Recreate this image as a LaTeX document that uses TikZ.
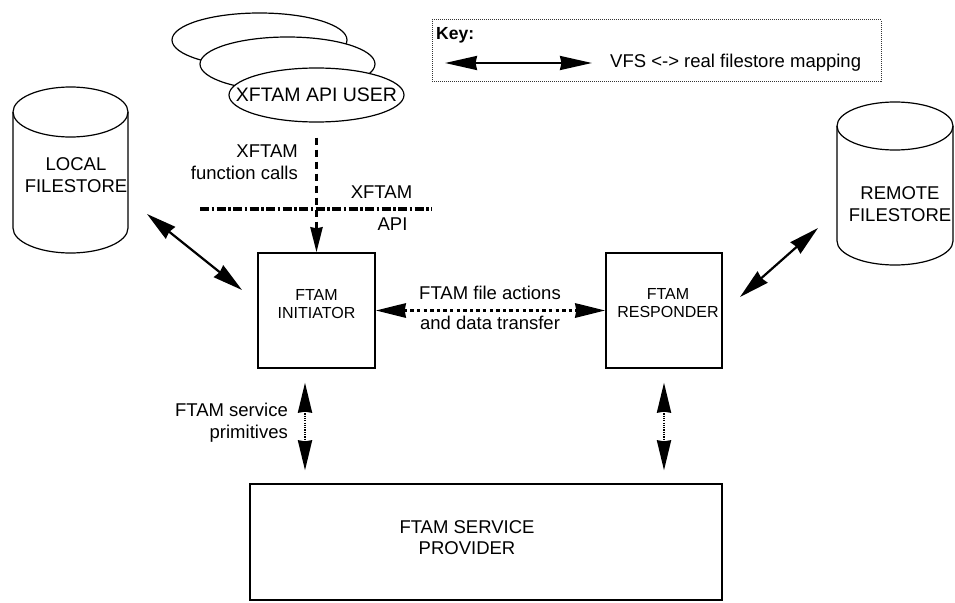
\documentclass[tikz,border=0pt]{standalone}
\usepackage{fontspec}
\setmainfont{Liberation Sans}
\usetikzlibrary{arrows.meta,shapes.geometric,calc}
\begin{document}
\begin{tikzpicture}[x=1pt,y=-1pt,
  box/.style={draw, line width=1.3pt, rectangle, inner sep=0pt},
  txt/.style={font=\fontsize{18.5}{21.5}\selectfont, align=center, inner sep=0pt},
  smalltxt/.style={font=\fontsize{16}{18.5}\selectfont, align=center, inner sep=0pt},
  user/.style={draw, ellipse, line width=1.2pt, fill=white, minimum width=175pt, minimum height=54pt, inner sep=0pt},
  cyl/.style={draw, line width=1.2pt},
  bigtip/.tip={Stealth[length=30pt,width=15pt,inset=1.5pt]},
  keytip/.tip={Stealth[length=32pt,width=14pt,inset=1.5pt]},
  vtip/.tip={Stealth[length=30pt,width=14pt,inset=1pt]},
  ftip/.tip={Stealth[length=25pt,width=12pt,inset=1pt]},
  maparrow/.style={line width=2.2pt, {bigtip}-{bigtip}},
  keyarrow/.style={line width=2.2pt, {keytip}-{keytip}},
  actarrow/.style={line width=3.5pt, dash pattern=on 3.4pt off 3.2pt, {vtip}-{vtip}},
  primarrow/.style={line width=2.4pt, dash pattern=on 1.2pt off 1.1pt, {vtip}-{vtip}, shorten <=14pt, shorten >=13pt},
  callline/.style={line width=3pt, dash pattern=on 7pt off 5pt, -{ftip}, shorten <=15pt},
  apiline/.style={line width=3.5pt, dash pattern=on 9pt off 2.5pt on 2.5pt off 2.5pt},
  keybox/.style={draw=black!80, line width=1pt, densely dotted, rectangle, minimum width=449pt, minimum height=61pt, inner sep=0pt}
]
\useasboundingbox (0,0) rectangle (955,602);

% key
\node[keybox] (key) at (656.5,50.5) {};
\node[font=\fontsize{17.5}{20}\selectfont\bfseries, anchor=west, inner sep=0pt] (keylbl) at (436,35) {Key:};
\coordinate (ka) at (445,63);
\coordinate (kb) at (592,63);
\draw[keyarrow] (ka) -- (kb);
\node[txt, anchor=west] (keytxt) at (610,63) {VFS <-> real filestore mapping};

% API users
\node[user] (e1) at (259.5,40) {};
\node[user] (e2) at (287.5,64) {};
\node[user] (e3) at (316.5,95) {};
\node[font=\fontsize{19.5}{22}\selectfont, inner sep=0pt] (e3txt) at (316.5,95) {XFTAM API USER};

% local filestore
\draw[cyl] (13,112) -- (13,228) arc[start angle=180,end angle=360,x radius=57.5pt,y radius=25pt] -- (128,112);
\draw[cyl] (70.5,112) ellipse[x radius=57.5pt, y radius=25pt];
\node[txt] (lfs) at (76,175) {LOCAL\\FILESTORE};

% remote filestore
\draw[cyl] (837,126) -- (837,241) arc[start angle=180,end angle=360,x radius=58pt,y radius=24pt] -- (953,126);
\draw[cyl] (895,126) ellipse[x radius=58pt, y radius=24pt];
\node[txt] (rfs) at (900,204) {REMOTE\\FILESTORE};

% boxes
\node[box, minimum width=117pt, minimum height=115pt] (init) at (316.5,310.5) {};
\node[smalltxt] (inittxt) at (316.5,304) {FTAM\\INITIATOR};
\node[box, minimum width=116pt, minimum height=115pt] (resp) at (664,310.5) {};
\node[smalltxt] (resptxt) at (668,303) {FTAM\\RESPONDER};
\node[box, minimum width=472pt, minimum height=116pt] (prov) at (486,542) {};
\node[txt] (provtxt) at (467,537.5) {FTAM SERVICE\\PROVIDER};

% XFTAM API
\coordinate (apiA) at (200,209);
\coordinate (apiB) at (432,209);
\draw[apiline] (apiA) -- (apiB);
\draw[callline] (e3.south) -- (init.north);
\node[txt, anchor=east, align=right] (calls) at (298,162) {XFTAM\\function calls};
\node[txt] (apix) at (381.5,192) {XFTAM};
\node[txt] (apia) at (392.5,224) {API};

% mappings
\coordinate (la1) at (147,214);
\coordinate (la2) at (242,290);
\draw[maparrow] (la1) -- (la2);
\coordinate (ra1) at (818,228);
\coordinate (ra2) at (740,297);
\draw[maparrow] (ra1) -- (ra2);

% file actions
\draw[actarrow] (init.east) -- (resp.west);
\node[txt] (act1) at (490,293) {FTAM file actions};
\node[txt] (act2) at (490,323) {and data transfer};

% service primitives
\draw[primarrow] ([xshift=-11.5pt]init.south) -- ([xshift=-11.5pt]init.south |- prov.north);
\draw[primarrow] (resp.south) -- (resp.south |- prov.north);
\node[txt, anchor=east, align=right] (prim) at (288,422.5) {FTAM service\\primitives};
\end{tikzpicture}
\end{document}
